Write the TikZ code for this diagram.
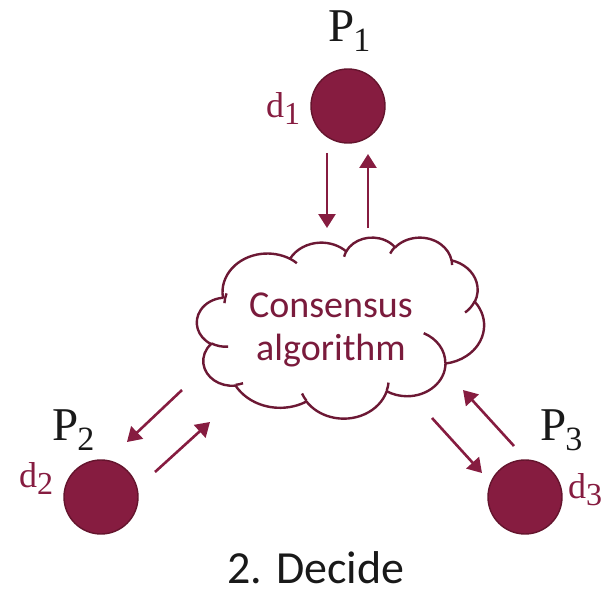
\documentclass[tikz,border=0pt]{standalone}
\usepackage{fontspec}
\setmainfont{Carlito}
\newfontfamily\labelfont{Liberation Serif}
\usetikzlibrary{arrows.meta}

\definecolor{wine}{RGB}{134,28,64}
\definecolor{wineedge}{RGB}{100,20,45}
\definecolor{cloudedge}{RGB}{108,24,52}
\definecolor{winetext}{RGB}{122,27,60}
\definecolor{ink}{RGB}{25,25,25}

% Cloud geometry: a 432 x 432 design box mapped onto the page
\def\cx{197}\def\cy{237}
\def\cw{0.66435}\def\ch{0.41898}

% append an elliptic arc given by radii and visual start / sweep angles
\newcommand\cldarc[5]{% #1 path macro, #2 wR, #3 hR, #4 start, #5 sweep
  \pgfmathsetmacro\tmpa{atan2((#2)*sin(#4),(#3)*cos(#4))}%
  \pgfmathsetmacro\tmpb{atan2((#2)*sin((#4)+(#5)),(#3)*cos((#4)+(#5)))}%
  \pgfmathsetmacro\tmpd{-1*mod((\tmpb)-(\tmpa)+720,360)}%
  \pgfmathsetmacro\tmps{-1*(\tmpa)}%
  \pgfmathsetmacro\tmprx{(#2)*\cw}%
  \pgfmathsetmacro\tmpry{(#3)*\ch}%
  \xdef#1{#1 arc[start angle=\tmps, delta angle=\tmpd, x radius=\tmprx pt, y radius=\tmpry pt]}%
}
% append a move to a box point
\newcommand\cldpoint[3]{% #1 path macro, #2 x, #3 y
  \pgfmathsetmacro\tmpx{\cx+(#2)*\cw}%
  \pgfmathsetmacro\tmpy{\cy+(#3)*\ch}%
  \xdef#1{#1 (\tmpx,\tmpy)}%
}

\tikzset{
  proc/.style={circle, fill=wine, draw=wineedge, line width=1.4pt,
    minimum size=74pt, inner sep=0pt},
  msg/.style={draw=wine, line width=2.6pt, -{Triangle[length=14pt,width=17pt]}},
  cloudline/.style={draw=cloudedge, line width=2.4pt, line join=round},
  pname/.style={anchor=base west, inner sep=0pt, text=ink,
    font=\labelfont\fontsize{47}{47}\selectfont},
  dname/.style={anchor=base west, inner sep=0pt, text=wine,
    font=\labelfont\fontsize{36}{36}\selectfont},
}

\newcommand\psub[1]{\kern-1pt\raisebox{-10pt}{\fontsize{34}{34}\selectfont #1}}
\newcommand\dsub[1]{\raisebox{-7pt}{\fontsize{32}{32}\selectfont #1}}

\begin{document}
\begin{tikzpicture}[x=1pt,y=-1pt]
\useasboundingbox (0,0) rectangle (608,591);

% outline of the consensus cloud
\gdef\cldout{}
\cldpoint\cldout{39.00}{143.70}
\cldarc\cldout{67.53}{91.90}{-190.4875}{123.7805}
\cldarc\cldout{53.33}{72.67}{-144.1024}{89.9452}
\cldarc\cldout{43.65}{59.45}{-145.8079}{99.7230}
\cldarc\cldout{48.57}{65.95}{-130.9861}{117.2417}
\cldarc\cldout{53.33}{72.73}{-78.7089}{109.0269}
\cldarc\cldout{67.75}{92.20}{-46.2673}{130.2690}
\cldarc\cldout{57.85}{78.67}{0.6250}{114.0333}
\cldarc\cldout{67.52}{92.15}{22.4516}{115.1726}
\cldarc\cldout{77.20}{105.43}{66.2426}{75.7110}
\cldarc\cldout{43.60}{59.18}{-274.9421}{146.7356}
\cldarc\cldout{43.45}{59.45}{-246.8285}{152.5189}

% small inner folds of the cloud
\gdef\cldin{}
\cldpoint\cldin{46.93}{261.77}\cldarc\cldin{43.45}{59.45}{86.7420}{26.4295}
\cldpoint\cldin{69.28}{348.99}\cldarc\cldin{43.60}{59.18}{73.6105}{11.4475}
\cldpoint\cldin{164.78}{390.90}\cldarc\cldin{67.52}{92.15}{137.6242}{14.0811}
\cldpoint\cldin{288.27}{347.51}\cldarc\cldin{67.52}{92.15}{6.4533}{15.9984}
\cldpoint\cldin{341.29}{229.54}\cldarc\cldin{57.85}{78.67}{-70.2924}{70.9174}
\cldpoint\cldin{417.98}{153.54}\cldarc\cldin{53.33}{72.73}{30.3180}{27.7515}
\cldpoint\cldin{383.24}{54.26}\cldarc\cldin{48.57}{65.95}{-13.7443}{14.8601}
\cldpoint\cldin{290.78}{39.52}\cldarc\cldin{48.57}{65.95}{-149.1815}{18.1891}
\cldpoint\cldin{221.41}{47.20}\cldarc\cldin{43.65}{59.45}{-163.4943}{17.6843}
\cldpoint\cldin{140.00}{51.92}\cldarc\cldin{53.33}{72.67}{-66.7070}{12.3194}
\cldpoint\cldin{41.27}{157.89}\cldarc\cldin{67.53}{91.90}{-175.7198}{19.5290}

\edef\drawcloud{\noexpand\draw[cloudline, fill=white] \cldout\space -- cycle;
  \noexpand\draw[cloudline] \cldin;}
\drawcloud

\node[text=winetext, align=center, inner sep=0pt,
  font=\fontsize{38}{43}\selectfont] (algo) at (331,330) {Consensus\\algorithm};

% processes
\node[proc] (p1) at (348,106) {};
\node[proc] (p2) at (101,497) {};
\node[proc] (p3) at (525,497) {};

\node[pname] (p1name) at (328,42) {P\psub{1}};
\node[pname] (p2name) at (52,440) {P\psub{2}};
\node[pname] (p3name) at (540,440) {P\psub{3}};

\node[dname] (d1name) at (266,118) {d\dsub{1}};
\node[dname] (d2name) at (19,487) {d\dsub{2}};
\node[dname] (d3name) at (568,498) {d\dsub{3}};

% message arrows
\coordinate (a1s) at (327,153); \coordinate (a1e) at (327,228);
\coordinate (b1s) at (368,228); \coordinate (b1e) at (368,154);
\coordinate (a2s) at (182,390); \coordinate (a2e) at (127,442);
\coordinate (b2s) at (155,472); \coordinate (b2e) at (210,422);
\coordinate (a3s) at (432,418); \coordinate (a3e) at (482,473);
\coordinate (b3s) at (514,446); \coordinate (b3e) at (463,390);
\draw[msg] (a1s) -- (a1e);
\draw[msg] (b1s) -- (b1e);
\draw[msg] (a2s) -- (a2e);
\draw[msg] (b2s) -- (b2e);
\draw[msg] (a3s) -- (a3e);
\draw[msg] (b3s) -- (b3e);

\node[anchor=base, inner sep=0pt, text=ink, font=\fontsize{46}{46}\selectfont]
  (caption) at (316,583) {2. Decide};
\end{tikzpicture}
\end{document}
